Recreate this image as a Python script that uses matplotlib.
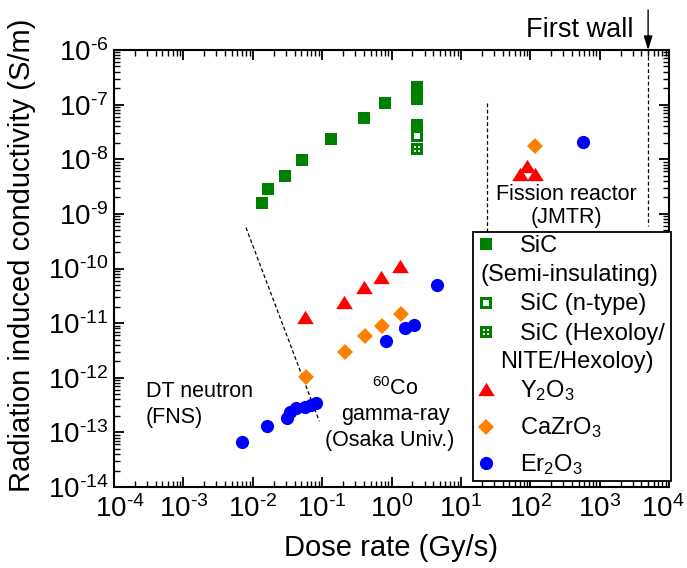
import numpy as np
import matplotlib
matplotlib.use("Agg")
import matplotlib.pyplot as plt
from matplotlib.path import Path
from matplotlib.patches import Rectangle
from matplotlib.ticker import LogLocator, NullFormatter, FuncFormatter
from matplotlib.transforms import ScaledTranslation

plt.rcParams["font.family"] = ["Liberation Sans", "DejaVu Sans"]
plt.rcParams["mathtext.fontset"] = "custom"
plt.rcParams["mathtext.rm"] = "Liberation Sans"
plt.rcParams["mathtext.it"] = "Liberation Sans:italic"
plt.rcParams["mathtext.bf"] = "Liberation Sans:bold"
plt.rcParams["mathtext.default"] = "regular"

# dose rate (Gy/s) and radiation induced conductivity (S/m)
sic_si_x = [0.0137, 0.0164, 0.029, 0.052, 0.135, 0.40, 0.80, 2.3, 2.3, 2.3]
sic_si_y = [1.6e-9, 2.9e-9, 4.9e-9, 9.7e-9, 2.3e-8, 5.6e-8, 1.06e-7, 2.07e-7, 1.27e-7, 4.2e-8]
sic_n_x = [2.3]
sic_n_y = [2.7e-8]
sic_hex_x = [2.3]
sic_hex_y = [1.56e-8]
y2o3_x = [0.0565, 0.208, 0.40, 0.70, 1.32, 71, 90, 119]
y2o3_y = [1.27e-11, 2.4e-11, 4.6e-11, 6.9e-11, 1.1e-10, 5.36e-9, 7.5e-9, 5.36e-9]
cazro3_x = [0.058, 0.213, 0.418, 0.727, 1.37, 116]
cazro3_y = [1.03e-12, 3.0e-12, 5.8e-12, 8.8e-12, 1.5e-11, 1.75e-8]
er2o3_x = [0.00711, 0.0159, 0.0308, 0.0344, 0.0419, 0.0565, 0.069, 0.0828,
           0.822, 1.56, 2.12, 4.46, 573]
er2o3_y = [6.53e-14, 1.30e-13, 1.82e-13, 2.34e-13, 2.77e-13, 2.96e-13, 3.21e-13, 3.42e-13,
           4.7e-12, 8.0e-12, 9.2e-12, 4.97e-11, 2.07e-8]

# guide lines
fns_line_x = [0.008, 0.091]
fns_line_y = [5.6e-10, 1.6e-13]
jmtr_line_x = [24, 24]
jmtr_line_y = [1.07e-7, 1e-10]
wall_line_x = [5000, 5000]
wall_line_y = [1e-6, 6e-10]

x_decades = np.arange(-4, 5)
y_decades = np.arange(-14, -5)

legend_labels = ["SiC", "(Semi-insulating)", "SiC (n-type)", "SiC (Hexoloy/",
                 "NITE/Hexoloy)", "Y$_2$O$_3$", "CaZrO$_3$", "Er$_2$O$_3$"]

GREEN = "#008000"
RED = "#ff0000"
ORANGE = "#ff8000"
BLUE = "#0000ff"


def square_with_holes(holes):
    verts = [(-1, -1), (1, -1), (1, 1), (-1, 1), (-1, -1)]
    codes = [Path.MOVETO, Path.LINETO, Path.LINETO, Path.LINETO, Path.CLOSEPOLY]
    for cx, cy, h in holes:
        verts += [(cx - h, cy - h), (cx - h, cy + h), (cx + h, cy + h),
                  (cx + h, cy - h), (cx - h, cy - h)]
        codes += [Path.MOVETO, Path.LINETO, Path.LINETO, Path.LINETO, Path.CLOSEPOLY]
    return Path(verts, codes)


open_sq = square_with_holes([(0, 0, 0.45)])
dot_sq = square_with_holes([(-0.38, -0.38, 0.16), (0.38, -0.38, 0.16),
                            (-0.38, 0.38, 0.16), (0.38, 0.38, 0.16)])
tri = Path([(0, 0.8), (-1, -0.8), (1, -0.8), (0, 0.8)],
           [Path.MOVETO, Path.LINETO, Path.LINETO, Path.CLOSEPOLY])

STYLES = [
    dict(marker="s", color=GREEN, ms=8.5),
    dict(marker=open_sq, color=GREEN, ms=8.5),
    dict(marker=dot_sq, color=GREEN, ms=8.5),
    dict(marker=tri, color=RED, ms=12),
    dict(marker="D", color=ORANGE, ms=8.3),
    dict(marker="o", color=BLUE, ms=9.5),
]


def log_label(v, pos):
    e = int(round(np.log10(v)))
    if e < 0:
        return r"$10^{\text{-}%d}$" % -e
    return r"$10^{%d}$" % e


W, H = 687, 568
fig = plt.figure(figsize=(W / 100, H / 100), dpi=100)
ax = fig.add_axes([114 / W, 1 - 487 / H, 555 / W, 437 / H])
ax.set_xscale("log")
ax.set_yscale("log")

dash = (0, (3, 2))
ax.plot(fns_line_x, fns_line_y, color="black", lw=0.9, ls=dash, zorder=1)
ax.plot(jmtr_line_x, jmtr_line_y, color="black", lw=0.9, ls=dash, zorder=1)
ax.plot(wall_line_x, wall_line_y, color="black", lw=0.9, ls=dash, zorder=1)

series = [(sic_si_x, sic_si_y), (sic_n_x, sic_n_y), (sic_hex_x, sic_hex_y),
          (y2o3_x, y2o3_y), (cazro3_x, cazro3_y), (er2o3_x, er2o3_y)]
for (xs, ys), st in zip(series, STYLES):
    ax.plot(xs, ys, ls="none", marker=st["marker"], color=st["color"],
            ms=st["ms"], mew=0, zorder=3)

# axes styling
for sp in ax.spines.values():
    sp.set_linewidth(1.5)
ax.set_xticks(10.0 ** x_decades)
ax.set_yticks(10.0 ** y_decades)
for axis in (ax.xaxis, ax.yaxis):
    axis.set_minor_locator(LogLocator(base=10, subs=np.arange(2, 10), numticks=20))
    axis.set_major_formatter(FuncFormatter(log_label))
    axis.set_minor_formatter(NullFormatter())
ax.set_xlim(1e-4, 1e4)
ax.set_ylim(1e-14, 1e-6)
ax.tick_params(which="both", direction="in", top=True, right=True, labelsize=20)
ax.tick_params(which="major", length=7, width=1.3, pad=6)
ax.tick_params(which="minor", length=4, width=1)
ax.tick_params(axis="y", pad=4)

# nudge the end x labels as in the original
xt = ax.xaxis.get_major_ticks()
first, last = xt[0].label1, xt[-1].label1
first.set_transform(first.get_transform() + ScaledTranslation(0.06, 0, fig.dpi_scale_trans))
last.set_transform(last.get_transform() + ScaledTranslation(-0.06, 0, fig.dpi_scale_trans))

ax.set_xlabel("Dose rate (Gy/s)", fontsize=21)
ax.set_ylabel("Radiation induced conductivity (S/m)", fontsize=21)
ax.yaxis.set_label_coords(-0.14, 0.531)
ax.xaxis.set_label_coords(0.5, -0.108)


def pos(px, py):
    return (px - 114) / 555, (487 - py) / 437


# annotations
ax.text(*pos(146, 397), "DT neutron", transform=ax.transAxes, fontsize=15.5, va="baseline")
ax.text(*pos(146, 423), "(FNS)", transform=ax.transAxes, fontsize=15.5, va="baseline")
ax.text(*pos(395, 395), "$^{60}$Co", transform=ax.transAxes, fontsize=15.5,
        ha="center", va="baseline")
ax.text(*pos(395, 420), "gamma-ray", transform=ax.transAxes, fontsize=15.5,
        ha="center", va="baseline")
ax.text(*pos(390, 446), "(Osaka Univ.)", transform=ax.transAxes, fontsize=15.5,
        ha="center", va="baseline")
ax.text(*pos(566, 200), "Fission reactor", transform=ax.transAxes, fontsize=15.5,
        ha="center", va="baseline")
ax.text(*pos(566, 223), "(JMTR)", transform=ax.transAxes, fontsize=15.5,
        ha="center", va="baseline")
ax.text(*pos(633, 37), "First wall", transform=ax.transAxes, fontsize=19.5,
        ha="right", va="baseline", clip_on=False)
ax.annotate("", xy=(5000, 1e-6), xytext=(5000, 5.4e-6), annotation_clip=False,
            arrowprops=dict(arrowstyle="-|>,head_length=0.7,head_width=0.22",
                            mutation_scale=12, lw=1, color="black",
                            shrinkA=0, shrinkB=0))

# legend drawn by hand (two-line entries start under the marker)
x0, y0 = pos(472.5, 481)
x1, y1 = pos(670.5, 232)
ax.add_patch(Rectangle((x0, y0), x1 - x0, y1 - y0, transform=ax.transAxes,
                       fc="white", ec="black", lw=1.3, zorder=5, clip_on=False))
marker_rows = [244, 303, 332, 389, 426.5, 463]
for st, row in zip(STYLES, marker_rows):
    ax.plot(*pos(486, row), transform=ax.transAxes, ls="none", marker=st["marker"],
            color=st["color"], ms=st["ms"], mew=0, zorder=6, clip_on=False)
text_x = [520, 480, 520, 520, 500, 520, 520, 520]
text_base = [252, 281, 310, 340, 368, 397.5, 434.5, 471]
for lab, tx, tb in zip(legend_labels, text_x, text_base):
    ax.text(*pos(tx, tb), lab, transform=ax.transAxes, fontsize=17,
            va="baseline", zorder=7, clip_on=False)

fig.savefig("out.png", dpi=100)
